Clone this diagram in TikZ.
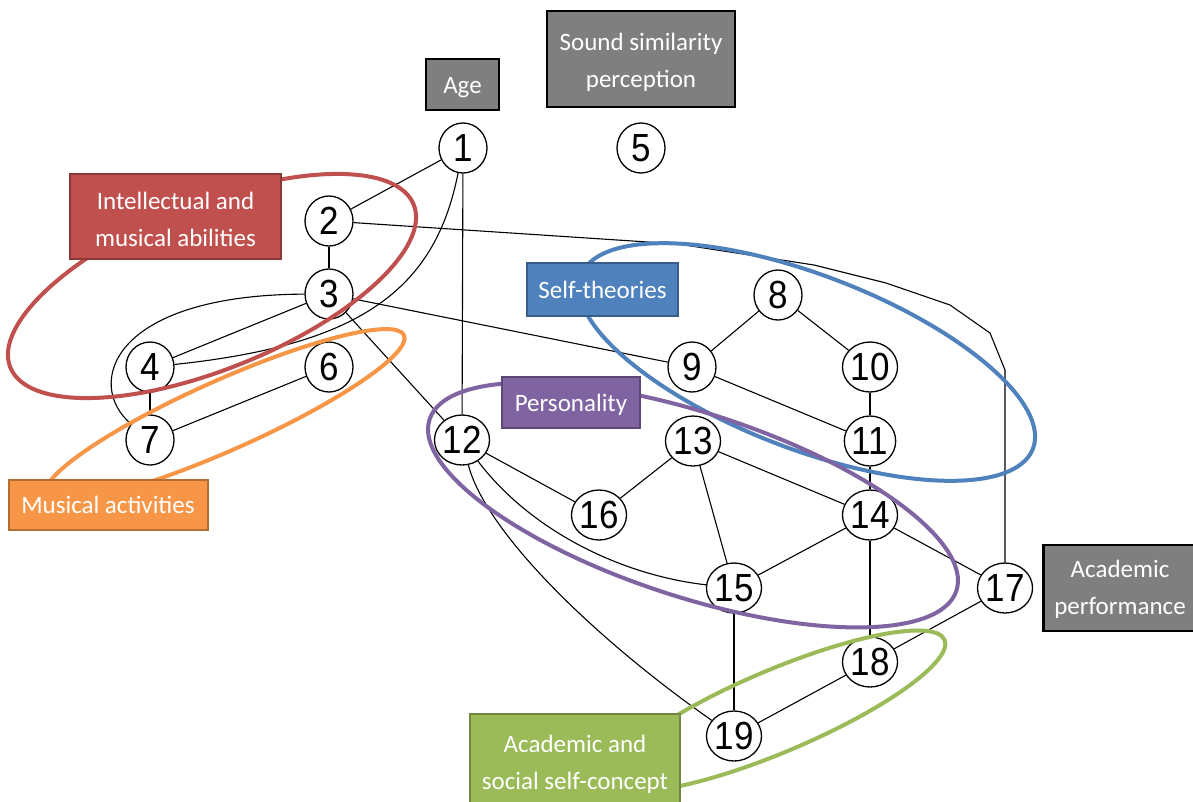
\documentclass[tikz,border=0pt]{standalone}
\usepackage{fontspec}
\setmainfont{Carlito}
\newfontfamily\numfont{Liberation Sans}
\usetikzlibrary{shapes.geometric}
\definecolor{cRed}{HTML}{C0504D}
\definecolor{cRedD}{HTML}{8C3836}
\definecolor{cBlue}{HTML}{4F81BD}
\definecolor{cBlueD}{HTML}{385D8A}
\definecolor{cPur}{HTML}{8064A2}
\definecolor{cPurD}{HTML}{5C4776}
\definecolor{cOra}{HTML}{F79646}
\definecolor{cOraD}{HTML}{B66D31}
\definecolor{cGre}{HTML}{9BBB59}
\definecolor{cGreD}{HTML}{71893F}
\definecolor{cGray}{HTML}{7F7F7F}
\newcommand{\tallnum}[1]{\scalebox{1}[1.12]{#1}}
\begin{document}
\begin{tikzpicture}[x=1pt,y=-1pt,
  var/.style={ellipse, draw, fill=white, line width=1.3pt, minimum width=48pt, minimum height=50pt, inner sep=0pt,
    font=\numfont\fontsize{35}{35}\selectfont},
  edge/.style={line width=1.1pt},
  grp/.style={line width=4pt},
  lbl/.style={rectangle, inner sep=0pt, align=center, text=white,
    font=\fontsize{25}{37}\selectfont},
  graybox/.style={lbl, fill=cGray, draw=black, line width=2.6pt},
  redbox/.style={lbl, fill=cRed, draw=cRedD, line width=2pt},
  bluebox/.style={lbl, fill=cBlue, draw=cBlueD, line width=2pt},
  purbox/.style={lbl, fill=cPur, draw=cPurD, line width=2pt},
  orabox/.style={lbl, fill=cOra, draw=cOraD, line width=2pt},
  grebox/.style={lbl, fill=cGre, draw=cGreD, line width=2pt},
  one/.style={text height=17pt, text depth=0pt}
]
\useasboundingbox (0,0) rectangle (1193,801);
\fill[white] (0,0) rectangle (1193,801);

% variables
\node[var] (n1)  at (463,148) {\tallnum{1}};
\node[var] (n2)  at (329,221) {\tallnum{2}};
\node[var] (n3)  at (329,294) {\tallnum{3}};
\node[var] (n4)  at (150,367) {\tallnum{4}};
\node[var] (n5)  at (641,148) {\tallnum{5}};
\node[var] (n6)  at (329,367) {\tallnum{6}};
\node[var] (n7)  at (150,440) {\tallnum{7}};
\node[var] (n8)  at (778,295) {\tallnum{8}};
\node[var] (n9)  at (692,367) {\tallnum{9}};
\node[var] (n10) at (870,367) {\tallnum{10}};
\node[var] (n11) at (870,441) {\tallnum{11}};
\node[var] (n12) at (462,440) {\tallnum{12}};
\node[var] (n13) at (693,441) {\tallnum{13}};
\node[var] (n14) at (870,515) {\tallnum{14}};
\node[var] (n15) at (734,588) {\tallnum{15}};
\node[var] (n16) at (599,515) {\tallnum{16}};
\node[var] (n17) at (1005,588) {\tallnum{17}};
\node[var] (n18) at (870,662) {\tallnum{18}};
\node[var] (n19) at (734,736) {\tallnum{19}};

% connectors
\coordinate (p1) at (678,244);
\coordinate (p2) at (814,265);
\coordinate (p3) at (886,283);
\coordinate (p4) at (950,305);
\coordinate (p5) at (990,333);
\coordinate (p6) at (1005,370);
\draw[edge] (n1) -- (n2);
\draw[edge] (n1) -- (n12);
\draw[edge] (n1) .. controls (435,290) and (360,345) .. (n4);
\draw[edge] (n2) -- (n3);
\draw[edge] (n2) -- (p1) -- (p2) -- (p3) -- (p4) -- (p5) -- (p6) -- (n17);
\draw[edge] (n3) -- (n4);
\draw[edge] (n3) -- (n9);
\draw[edge] (n3) -- (n12);
\draw[edge] (n3) .. controls (110,295) and (85,385) .. (n7);
\draw[edge] (n4) -- (n7);
\draw[edge] (n6) -- (n7);
\draw[edge] (n8) -- (n9);
\draw[edge] (n8) -- (n10);
\draw[edge] (n9) -- (n11);
\draw[edge] (n10) -- (n11);
\draw[edge] (n11) -- (n14);
\draw[edge] (n12) -- (n16);
\draw[edge] (n12) .. controls (530,530) and (620,575) .. (n15);
\draw[edge] (n12) .. controls (485,530) and (590,635) .. (n19);
\draw[edge] (n13) -- (n16);
\draw[edge] (n13) -- (n15);
\draw[edge] (n13) -- (n14);
\draw[edge] (n14) -- (n15);
\draw[edge] (n14) -- (n17);
\draw[edge] (n14) -- (n18);
\draw[edge] (n15) -- (n19);
\draw[edge] (n18) -- (n19);
\draw[edge] (n17) -- (n18);

% group ellipses
\draw[grp, cRed, rotate around={22:(212,286)}] (212,286) ellipse [x radius=217.5, y radius=83];
\draw[grp, cOra, rotate around={24:(225,415)}] (225,415) ellipse [x radius=196, y radius=35];
\draw[grp, cBlue, rotate around={-21:(807,362)}] (807,362) ellipse [x radius=242, y radius=87];
\draw[grp, cPur, rotate around={-18:(693,505)}] (693,505) ellipse [x radius=277, y radius=92];
\draw[grp, cGre, rotate around={23:(777,711)}] (777,711) ellipse [x radius=182, y radius=41];

% labels
\node[graybox, one, minimum width=73pt, minimum height=51pt] (age) at (462.5,84.5) {Age};
\node[graybox, text height=58pt, text depth=2pt, minimum width=188pt, minimum height=96pt] (sound) at (641,59) {Sound similarity\\perception};
\node[redbox, text height=60pt, text depth=1pt, minimum width=211pt, minimum height=85pt] (intel) at (175.5,216.5) {Intellectual and\\musical abilities};
\node[bluebox, one, minimum width=151pt, minimum height=53pt] (selft) at (602.5,289.5) {Self-theories};
\node[purbox, one, minimum width=138pt, minimum height=51pt] (pers) at (571,402.5) {Personality};
\node[orabox, one, minimum width=199pt, minimum height=50pt] (music) at (108,504.5) {Musical activities};
\node[graybox, text height=54pt, text depth=2pt, minimum width=153pt, minimum height=86pt] (acadp) at (1120,588) {Academic\\performance};
\node[grebox, anchor=north, minimum width=210pt, minimum height=100pt] (acads) at (575,713) {Academic and\\social self-concept};
\end{tikzpicture}
\end{document}
